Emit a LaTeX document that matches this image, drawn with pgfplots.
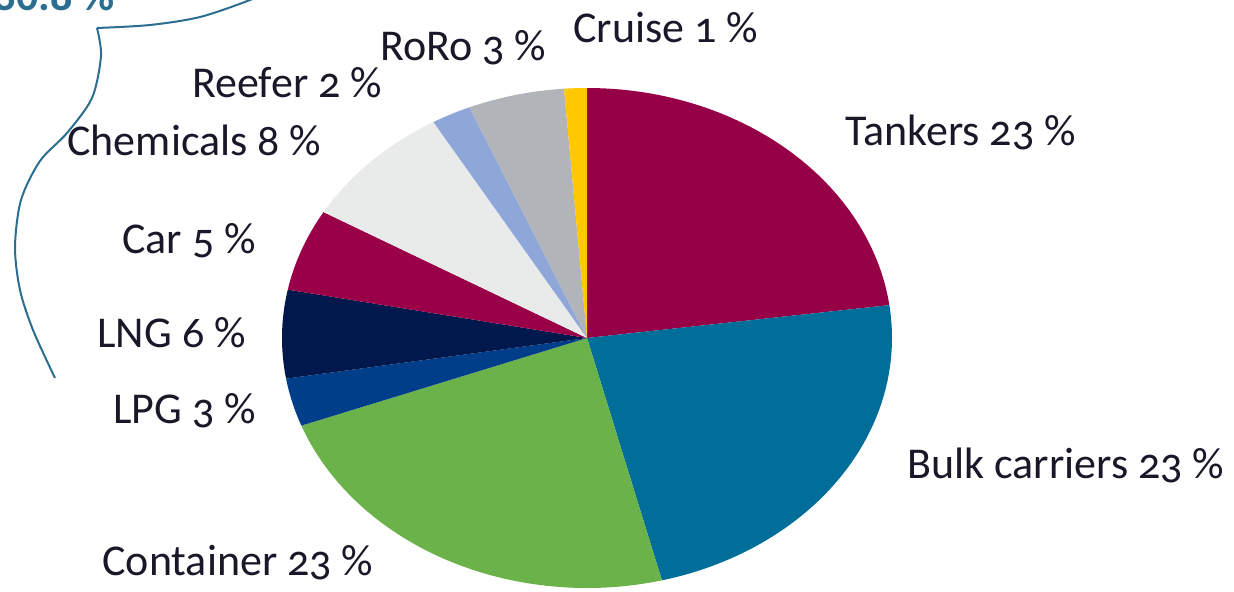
\documentclass[border=0pt]{standalone}
\usepackage{pgfplots}
\pgfplotsset{compat=1.18}
\usepackage{fontspec}
\setmainfont{Carlito}[Numbers=OldStyle]
\definecolor{tank}{HTML}{960046}
\definecolor{bulk}{HTML}{006E98}
\definecolor{cont}{HTML}{6CB24B}
\definecolor{lpg}{HTML}{003E8A}
\definecolor{lng}{HTML}{00184B}
\definecolor{car}{HTML}{9A0047}
\definecolor{chem}{HTML}{E9EBEB}
\definecolor{reef}{HTML}{8FA7D8}
\definecolor{roro}{HTML}{B1B4B8}
\definecolor{cruise}{HTML}{FFC800}
\definecolor{lab}{HTML}{181828}
\definecolor{brace}{HTML}{2B6E8F}
\tikzset{lbl/.style={font=\fontsize{22}{26}\selectfont, text=lab, inner sep=0pt, anchor=base west}}
\newcommand\cum{0}
\newcommand\slice[2]{%
  \pgfmathsetmacro\aE{90-3.6*\cum}%
  \pgfmathsetmacro\newcum{\cum+#1}%
  \pgfmathsetmacro\aS{90-3.6*\newcum}%
  \xdef\cum{\newcum}%
  \edef\tmp{\noexpand\addplot[fill=#2, draw=none, domain=\aS:\aE, samples=90] ({587+305*cos(x)},{253+250*sin(x)}) -- (axis cs:587,253) -- cycle;}\tmp}
\begin{document}
\begin{tikzpicture}
\path[use as bounding box, clip] (0,0) rectangle (617pt,295.5pt);
\begin{axis}[at={(0,0)}, anchor=south west, scale only axis,
  width=617pt, height=295.5pt, xmin=0, xmax=1234, ymin=0, ymax=591,
  hide axis, clip=true]
% slices (percent of the pie), clockwise from the top
\slice{22.9}{tank}   % Tankers
\slice{23.15}{bulk}  % Bulk carriers
\slice{23.25}{cont}  % Container
\slice{3.1}{lpg}     % LPG
\slice{5.7}{lng}     % LNG
\slice{5.3}{car}     % Car
\slice{8.2}{chem}    % Chemicals
\slice{2.1}{reef}    % Reefer
\slice{5.1}{roro}    % RoRo
\slice{1.2}{cruise}  % Cruise
% brace annotation
\addplot[brace, line width=1pt, smooth, no marks] coordinates {(97,563) (150,566) (200,574) (250,591) (280,605)};
\addplot[brace, line width=1pt, smooth, no marks] coordinates {(97,563) (101,535) (92,493) (67,458) (40,430) (21,391) (15,344) (20,301) (33,261) (55,213)};
\node[inner sep=0pt, anchor=base east, font=\fontsize{22}{26}\selectfont\bfseries\addfontfeatures{Numbers=Lining}, text=brace] at (axis cs:115,581) {30.8 \%};
% labels
\node[lbl] at (axis cs:845,446) {Tankers 23 \%};
\node[lbl] at (axis cs:907,113) {Bulk carriers 23 \%};
\node[lbl] at (axis cs:102,16) {Container 23 \%};
\node[lbl] at (axis cs:113,168) {LPG 3 \%};
\node[lbl] at (axis cs:97,244) {LNG 6 \%};
\node[lbl] at (axis cs:122,338) {Car 5 \%};
\node[lbl] at (axis cs:67,436) {Chemicals 8 \%};
\node[lbl] at (axis cs:192,494) {Reefer 2 \%};
\node[lbl] at (axis cs:380,531) {RoRo 3 \%};
\node[lbl] at (axis cs:573,549) {Cruise 1 \%};
\end{axis}
\end{tikzpicture}
\end{document}
